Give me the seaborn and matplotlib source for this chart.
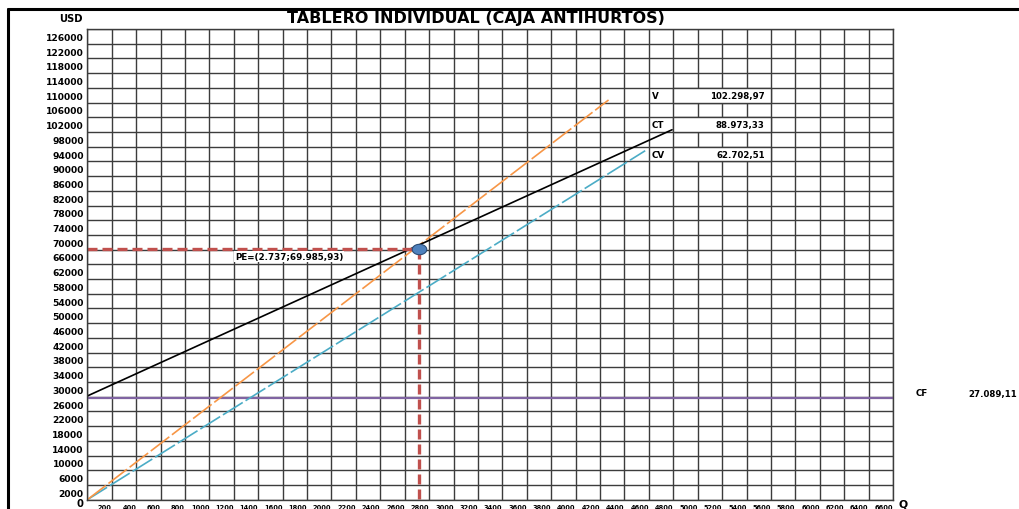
"""Punto de equilibrio - tablero individual (caja antihurtos)."""

import matplotlib.lines as mlines
import matplotlib.pyplot as plt
import numpy as np
import seaborn as sns
from matplotlib.patches import Rectangle

# grid / axis values
X_GRID = list(range(0, 6601, 200))
Y_GRID = list(range(0, 128001, 4000))
Y_LABELS = list(range(2000, 126001, 4000))

# lines (units vs USD)
V_X = [0, 4270]
V_Y = [0, 108700]
CT_X = [0, 4790]
CT_Y = [28200, 100600]
CV_X = [0, 4570]
CV_Y = [0, 94900]
CF_X = [0, 6600]
CF_Y = [27600, 27600]
PE_X = 2715
PE_Y = 68300

# table at the right
TABLE_NAMES = ["V", "CT", "CV"]
TABLE_VALUES = ["102.298,97", "88.973,33", "62.702,51"]
TABLE_ROWS = [108000, 100000, 92000]
CF_TEXT = "27.089,11"
PE_TEXT = "PE=(2.737;69.985,93)"

W, H = 1019, 510
GRID_COLOR = "#3c3c3c"


def fx(px):
    return px / W


def fy(py):
    return 1 - py / H


def main() -> None:
    sns.set_theme(style="white")
    plt.rcParams["font.family"] = ["DejaVu Sans"]
    plt.rcParams["text.color"] = "black"
    plt.rcParams["xtick.color"] = "black"
    plt.rcParams["ytick.color"] = "black"

    fig = plt.figure(figsize=(W / 100, H / 100), dpi=100)
    ax = fig.add_axes([fx(87.3), fy(500.7), (893 - 87.3) / W, (500.7 - 30) / H])
    ax.set_xlim(0, 6600)
    ax.set_ylim(0, 128000)
    ax.set_axisbelow(True)

    ax.set_xticks(X_GRID)
    ax.set_xticklabels([""] + [str(v) for v in X_GRID[1:]],
                       fontsize=4.8, fontweight="bold", ha="right")
    ax.set_yticks(Y_GRID)
    ax.set_yticklabels([])
    ax.set_yticks(Y_LABELS, minor=True)
    ax.set_yticklabels([str(v) for v in Y_LABELS], minor=True,
                       fontsize=6.6, fontweight="bold")
    ax.tick_params(axis="both", which="both", length=0)
    ax.tick_params(axis="x", pad=3)
    ax.tick_params(axis="y", which="minor", pad=2.5)
    ax.grid(True, which="major", color=GRID_COLOR, linewidth=1.0)
    for spine in ax.spines.values():
        spine.set_color(GRID_COLOR)
        spine.set_linewidth(1.0)

    # lines
    sns.lineplot(x=CF_X, y=CF_Y, ax=ax, color="#8064A2", linewidth=1.6)
    sns.lineplot(x=CV_X, y=CV_Y, ax=ax, color="#4BACC6", linewidth=1.2,
                 linestyle=(0, (14, 2)))
    sns.lineplot(x=V_X, y=V_Y, ax=ax, color="#F79646", linewidth=1.2,
                 linestyle=(0, (14, 2)))
    sns.lineplot(x=CT_X, y=CT_Y, ax=ax, color="black", linewidth=1.2)

    # break-even guides and point
    sns.lineplot(x=[0, PE_X], y=[PE_Y, PE_Y], ax=ax, color="#C0504D",
                 linewidth=2.4, linestyle=(0, (3, 1.5)),
                 estimator=None, sort=False)
    sns.lineplot(x=[PE_X, PE_X], y=[PE_Y, 0], ax=ax, color="#C0504D",
                 linewidth=2.4, linestyle=(0, (3, 1.5)),
                 estimator=None, sort=False)
    t = np.linspace(0, 2 * np.pi, 60)
    ellipse = np.column_stack([np.cos(t) * 1.4, np.sin(t)])
    sns.scatterplot(x=[PE_X], y=[PE_Y], ax=ax, marker=ellipse, s=110,
                    color="#4F81BD", edgecolor="#2C4D75", linewidth=0.8,
                    zorder=5)
    ax.text(1210, 66100, PE_TEXT, fontsize=6.3, fontweight="bold",
            va="center", ha="left", zorder=4,
            bbox=dict(facecolor="white", edgecolor="none", pad=0.6))

    # value table
    for name, value, row in zip(TABLE_NAMES, TABLE_VALUES, TABLE_ROWS):
        ax.add_patch(Rectangle((4800, row), 800, 4000, facecolor="white",
                               edgecolor=GRID_COLOR, linewidth=1.0, zorder=3))
        ax.text(4625, row + 2000, name, fontsize=6.3, fontweight="bold",
                va="center", ha="left", zorder=4)
        ax.text(5550, row + 2000, value, fontsize=6.2, fontweight="bold",
                va="center", ha="right", zorder=4)
    ax.set_xlabel("")
    ax.set_ylabel("")

    # figure texts
    fig.text(fx(476), fy(19), "TABLERO INDIVIDUAL (CAJA ANTIHURTOS)",
             fontsize=11.5, fontweight="bold", ha="center", va="center")
    fig.text(fx(83), fy(19), "USD", fontsize=7.2, fontweight="bold",
             ha="right", va="center")
    fig.text(fx(80), fy(509.5), "0", fontsize=7.2, fontweight="bold",
             ha="center", va="bottom")
    fig.text(fx(903), fy(509.5), "Q", fontsize=7.8, fontweight="bold",
             ha="center", va="bottom")
    fig.text(fx(916), fy(394), "CF", fontsize=6.3, fontweight="bold",
             ha="left", va="center")
    fig.text(fx(968), fy(394), CF_TEXT, fontsize=6.2, fontweight="bold",
             ha="left", va="center")

    # outer frame (top and left only)
    fig.add_artist(mlines.Line2D([fx(8), 1], [fy(10), fy(10)],
                                 transform=fig.transFigure, color="black",
                                 linewidth=2.2))
    fig.add_artist(mlines.Line2D([fx(8), fx(8)], [fy(10), 0],
                                 transform=fig.transFigure, color="black",
                                 linewidth=2.2))

    fig.savefig("out.png", dpi=100)
    plt.close(fig)


if __name__ == "__main__":
    main()
